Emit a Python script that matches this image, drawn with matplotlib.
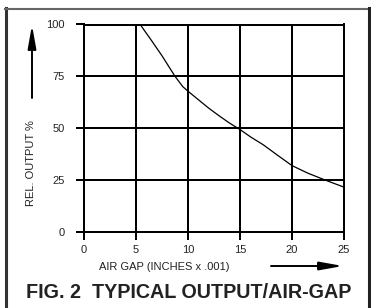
import numpy as np
import matplotlib
matplotlib.use("Agg")
import matplotlib.pyplot as plt

# curve
gap = [5.4, 6.5, 7.5, 8.75, 9.5, 10, 11, 12, 13, 14, 15, 16, 17.25,
       18.5, 20, 21.5, 23.2, 25]
output = [100, 92.2, 84.9, 75, 70, 67.8, 63.7, 59.6, 55.9, 52.4, 49.3, 45.8,
          41.9, 37.3, 31.9, 28.3, 24.9, 21.5]

xticks = [0, 5, 10, 15, 20, 25]
yticks = [0, 25, 50, 75, 100]

W, H = 371, 308
plt.rcParams['font.family'] = ['Liberation Sans', 'DejaVu Sans']

fig = plt.figure(figsize=(W / 100, H / 100), dpi=100)
fig.patch.set_facecolor('white')

# axes box in pixels: x 84..344, y 24.5..231.7 (from top)
ax = fig.add_axes([84 / W, (H - 231.7) / H, (344 - 84) / W, (231.7 - 24.5) / H])
ax.set_xlim(0, 25)
ax.set_ylim(0, 100)
ax.set_xticks(xticks)
ax.set_yticks(yticks)
ax.grid(True, color='black', linewidth=1.44)
for s in ax.spines.values():
    s.set_linewidth(1.44)
    s.set_color('black')
ax.tick_params(axis='both', direction='out', length=5.8, width=1.44,
               labelsize=8, labelcolor='#222222')
ax.tick_params(axis='x', pad=3.5)
ax.tick_params(axis='y', pad=8)

ax.plot(gap, output, color='black', linewidth=0.9)


def px(x, y):
    return x / W, 1 - y / H


fig.text(*px(164, 267), 'AIR GAP (INCHES x .001)', ha='center', va='center',
         fontsize=8, color='#222222')
fig.text(*px(31, 163), 'REL. OUTPUT %', ha='center', va='center',
         rotation=90, fontsize=8, color='#222222')
fig.text(*px(188.5, 292), 'FIG. 2  TYPICAL OUTPUT/AIR-GAP', ha='center',
         va='center', fontsize=14.2, fontweight='bold', color='#222222')

# arrows
arrow = dict(arrowstyle='-|>,head_length=1.4,head_width=0.25',
             color='black', lw=1.4, mutation_scale=10, shrinkA=0, shrinkB=0)
ax.annotate('', xy=(343, H - 266), xytext=(271, H - 266),
            xycoords='figure pixels', textcoords='figure pixels',
            arrowprops=arrow, annotation_clip=False)
ax.annotate('', xy=(32, H - 25), xytext=(32, H - 98),
            xycoords='figure pixels', textcoords='figure pixels',
            arrowprops=arrow, annotation_clip=False)

# frame around the figure
fig.add_artist(plt.Line2D([5.5 / W, 5.5 / W], [0, 1 - 8 / H],
                          transform=fig.transFigure, color='#333333', lw=2.2))
fig.add_artist(plt.Line2D([5 / W, 369 / W], [1 - 9 / H, 1 - 9 / H],
                          transform=fig.transFigure, color='#666666', lw=1.5))
fig.add_artist(plt.Line2D([368.5 / W, 368.5 / W], [0, 1 - 8 / H],
                          transform=fig.transFigure, color='#222222', lw=2.2))

fig.savefig('out.png', dpi=100)
